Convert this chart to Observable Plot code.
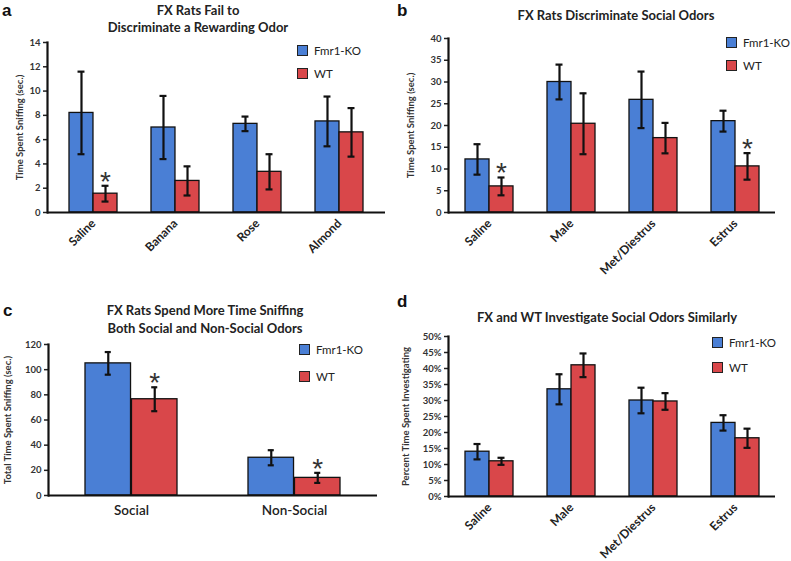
<!DOCTYPE html>
<html>
<head>
<meta charset="utf-8">
<script src="https://cdn.jsdelivr.net/npm/d3@7"></script>
<script src="https://cdn.jsdelivr.net/npm/@observablehq/plot@0.6"></script>
<style>
  html, body { margin: 0; padding: 0; background: #fff; }
  #root { position: relative; width: 791px; height: 561px; background: #fff; overflow: hidden; font-family: Lato, "Open Sans", sans-serif; color: #222; }
  .title { position: absolute; transform: translate(-50%, -50%); white-space: nowrap; font-weight: bold; font-size: 13px; color: #222; line-height: 1; }
  .letter { position: absolute; font-weight: bold; font-size: 17px; line-height: 1; color: #111; font-family: Arial, "Liberation Sans", sans-serif; }
  .legend-item { position: absolute; display: flex; align-items: center; font-size: 11.5px; line-height: 1; color: #222; white-space: nowrap; }
  .sw { width: 9px; height: 9px; border: 1px solid #222; margin-right: 6px; }
</style>
</head>
<body>
<div id="root"></div>
<script>
// ---------- data ----------
const seriesNames = ["Fmr1-KO", "WT"];
const seriesColors = ["#4a7fd5", "#d9474a"];

// Panel a
const aCategories = ["Saline", "Banana", "Rose", "Almond"];
const aKO = [8.2, 7.0, 7.3, 7.5];
const aKOerr = [3.4, 2.6, 0.6, 2.05];
const aWT = [1.55, 2.6, 3.35, 6.6];
const aWTerr = [0.65, 1.2, 1.45, 2.0];
const aWTstar = [true, false, false, false];
const aTicks = [0, 2, 4, 6, 8, 10, 12, 14];

// Panel b
const bCategories = ["Saline", "Male", "Met/Diestrus", "Estrus"];
const bKO = [12.2, 30.0, 25.9, 21.0];
const bKOerr = [3.5, 4.0, 6.5, 2.4];
const bWT = [6.0, 20.4, 17.1, 10.6];
const bWTerr = [2.05, 7.0, 3.5, 3.05];
const bWTstar = [true, false, false, true];
const bTicks = [0, 5, 10, 15, 20, 25, 30, 35, 40];

// Panel c
const cCategories = ["Social", "Non-Social"];
const cKO = [105, 30];
const cKOerr = [9, 6];
const cWT = [76.5, 14];
const cWTerr = [9.5, 4];
const cWTstar = [true, true];
const cTicks = [0, 20, 40, 60, 80, 100, 120];

// Panel d (percent)
const dCategories = ["Saline", "Male", "Met/Diestrus", "Estrus"];
const dKO = [14, 33.5, 30, 23];
const dKOerr = [2.4, 4.7, 4.0, 2.4];
const dWT = [11, 41, 29.7, 18.2];
const dWTerr = [1.1, 3.7, 2.6, 3.0];
const dWTstar = [false, false, false, false];
const dTicks = [0, 5, 10, 15, 20, 25, 30, 35, 40, 45, 50];

// ---------- drawing ----------
const root = document.getElementById("root");

function panel(cfg) {
  const cats = cfg.categories;
  const rows = [];
  cats.forEach((c, i) => {
    rows.push({cat: c, s: 0, value: cfg.ko[i], err: cfg.koErr[i], star: false});
    rows.push({cat: c, s: 1, value: cfg.wt[i], err: cfg.wtErr[i], star: cfg.wtStar[i]});
  });
  const ko = rows.filter(d => d.s === 0);
  const wt = rows.filter(d => d.s === 1);
  const bw = d3.scaleBand().domain(cats)
    .range([cfg.ml, cfg.width - cfg.mr])
    .paddingInner(cfg.pi).paddingOuter(cfg.po).bandwidth();
  const half = bw / 2, q = bw / 4, cap = 3.5;
  const errMarks = (data, side) => [
    Plot.ruleX(data, {x: "cat", y1: d => d.value - d.err, y2: d => d.value + d.err, dx: side * q, stroke: "#111", strokeWidth: 2.2}),
    Plot.tickY(data, {x: "cat", y: d => d.value + d.err, dx: side * q, insetLeft: half - cap, insetRight: half - cap, stroke: "#111", strokeWidth: 2.2}),
    Plot.tickY(data, {x: "cat", y: d => d.value - d.err, dx: side * q, insetLeft: half - cap, insetRight: half - cap, stroke: "#111", strokeWidth: 2.2})
  ];
  const svg = Plot.plot({
    width: cfg.width, height: cfg.height,
    marginLeft: cfg.ml, marginRight: cfg.mr, marginTop: cfg.mt, marginBottom: cfg.mb,
    style: {fontFamily: "Lato, 'Open Sans', sans-serif", background: "transparent", overflow: "visible", color: "#222"},
    x: {domain: cats, paddingInner: cfg.pi, paddingOuter: cfg.po, label: null},
    y: {domain: [cfg.ticks[0], cfg.ticks[cfg.ticks.length - 1]], label: null},
    marks: [
      Plot.barY(ko, {x: "cat", y: "value", insetRight: half, fill: seriesColors[0], stroke: "#111", strokeWidth: 1.3}),
      Plot.barY(wt, {x: "cat", y: "value", insetLeft: half, fill: seriesColors[1], stroke: "#111", strokeWidth: 1.3}),
      ...errMarks(ko, -1),
      ...errMarks(wt, 1),
      Plot.text(wt.filter(d => d.star), {x: "cat", y: d => d.value + d.err, dx: q, dy: cfg.starDy, text: () => "*", fontSize: 28, fill: "#333", fontWeight: "normal", fontFamily: "'Liberation Sans', Arial, sans-serif"}),
      Plot.axisY({ticks: cfg.ticks, tickSize: 4, tickPadding: 3, tickFormat: cfg.tickFormat || (d => d), fontSize: 9.5, fontWeight: "bold", fill: "#333", strokeWidth: 1.5,
        label: cfg.yLabel, labelAnchor: "center", labelArrow: "none", labelOffset: cfg.labelOffset}),
      cfg.rotate
        ? Plot.axisX({tickRotate: -45, tickSize: 0, tickPadding: 9, fontSize: 12, fontWeight: "bold", fill: "#222", label: null})
        : Plot.axisX({tickSize: 0, tickPadding: 10, fontSize: 13.5, fontWeight: 600, fill: "#222", label: null}),
      Plot.frame({anchor: "left", stroke: "#111", strokeWidth: 2.2}),
      Plot.ruleY([cfg.ticks[0]], {stroke: "#111", strokeWidth: 2.2})
    ]
  });
  svg.style.position = "absolute";
  svg.style.left = cfg.left + "px";
  svg.style.top = cfg.top + "px";
  root.appendChild(svg);

  cfg.titles.forEach(t => {
    const el = document.createElement("div");
    el.className = "title";
    el.textContent = t.text;
    el.style.left = t.x + "px";
    el.style.top = t.y + "px";
    root.appendChild(el);
  });
  const L = document.createElement("div");
  L.className = "letter";
  L.textContent = cfg.letter.text;
  L.style.left = cfg.letter.x + "px";
  L.style.top = cfg.letter.y + "px";
  root.appendChild(L);
  seriesNames.forEach((name, i) => {
    const it = document.createElement("div");
    it.className = "legend-item";
    it.style.left = cfg.legend.x + "px";
    it.style.top = (cfg.legend.y + i * cfg.legend.gap) + "px";
    const sw = document.createElement("div");
    sw.className = "sw";
    sw.style.background = seriesColors[i];
    it.appendChild(sw);
    it.appendChild(document.createTextNode(name));
    root.appendChild(it);
  });
}

panel({
  categories: aCategories, ko: aKO, koErr: aKOerr, wt: aWT, wtErr: aWTerr, wtStar: aWTstar, ticks: aTicks,
  yLabel: "Time Spent Sniffing (sec.)", labelOffset: 31,
  left: 0, top: 0, width: 395, height: 250, ml: 47, mr: 10, mt: 42, mb: 38, pi: 0.42, po: 0.25, rotate: true, starDy: -4,
  titles: [{text: "FX Rats Fail to", x: 198, y: 10}, {text: "Discriminate a Rewarding Odor", x: 198, y: 27}],
  letter: {text: "a", x: 2, y: 2},
  legend: {x: 297, y: 45, gap: 23}
});

panel({
  categories: bCategories, ko: bKO, koErr: bKOerr, wt: bWT, wtErr: bWTerr, wtStar: bWTstar, ticks: bTicks,
  yLabel: "Time Spent Sniffing (sec.)", labelOffset: 41,
  left: 395, top: 0, width: 396, height: 280, ml: 53, mr: 16, mt: 38, mb: 68, pi: 0.415, po: 0.2, rotate: true, starDy: -4,
  titles: [{text: "FX Rats Discriminate Social Odors", x: 616, y: 15}],
  letter: {text: "b", x: 397, y: 2},
  legend: {x: 726, y: 37, gap: 23}
});

panel({
  categories: cCategories, ko: cKO, koErr: cKOerr, wt: cWT, wtErr: cWTerr, wtStar: cWTstar, ticks: cTicks,
  yLabel: "Total Time Spent Sniffing (sec.)", labelOffset: 44,
  left: 0, top: 280, width: 395, height: 281, ml: 48, mr: 18, mt: 64, mb: 66, pi: 0.433, po: 0.22, rotate: false, starDy: -4,
  titles: [{text: "FX Rats Spend More Time Sniffing", x: 205, y: 310}, {text: "Both Social and Non-Social Odors", x: 205, y: 328}],
  letter: {text: "c", x: 3, y: 302},
  legend: {x: 299, y: 344, gap: 27}
});

panel({
  categories: dCategories, ko: dKO, koErr: dKOerr, wt: dWT, wtErr: dWTerr, wtStar: dWTstar, ticks: dTicks,
  yLabel: "Percent Time Spent Investigating", labelOffset: 46, tickFormat: d => d + "%",
  left: 395, top: 280, width: 396, height: 281, ml: 53, mr: 16, mt: 56, mb: 65, pi: 0.415, po: 0.2, rotate: true, starDy: -4,
  titles: [{text: "FX and WT Investigate Social Odors Similarly", x: 607, y: 317}],
  letter: {text: "d", x: 397, y: 293},
  legend: {x: 712, y: 337, gap: 25}
});
</script>
</body>
</html>
